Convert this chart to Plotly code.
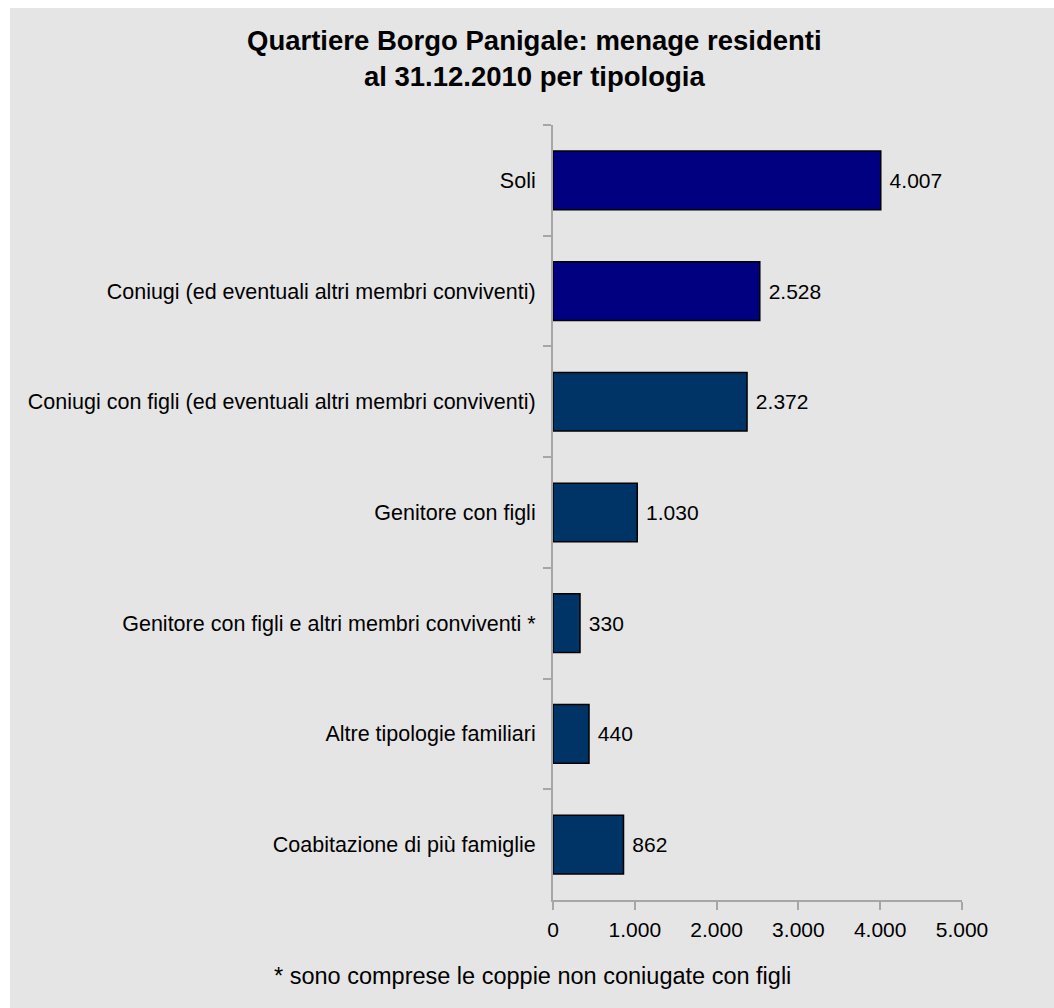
import plotly.graph_objects as go

# Household types and counts (Borgo Panigale, 31.12.2010)
categories = [
    "Soli",
    "Coniugi (ed eventuali altri membri conviventi)",
    "Coniugi con figli (ed eventuali altri membri conviventi)",
    "Genitore con figli",
    "Genitore con figli e altri membri conviventi *",
    "Altre tipologie familiari",
    "Coabitazione di più famiglie",
]
values = [4007, 2528, 2372, 1030, 330, 440, 862]
bar_colors = ["#000080", "#000080", "#003366", "#003366", "#003366", "#003366", "#003366"]
x_ticks = [0, 1000, 2000, 3000, 4000, 5000]
title_lines = ["Quartiere Borgo Panigale: menage residenti", "al 31.12.2010 per tipologia"]
footnote = "* sono comprese le coppie non coniugate con figli"

W, H = 1054, 1008
L, R, T, B = 553, 92, 125, 108
pw, ph = W - L - R, H - T - B
FONT = "Liberation Sans, Arial"


def px_x(p):
    return (p - L) / pw


def px_y(p):
    return (H - B - p) / ph


fig = go.Figure(
    go.Bar(
        x=values,
        y=categories,
        orientation="h",
        marker=dict(color=bar_colors, line=dict(color="#000000", width=1.5)),
        width=0.53,
        text=values,
        texttemplate=" %{x:,d}",
        textposition="outside",
        textfont=dict(family=FONT, size=21, color="#000000"),
        cliponaxis=False,
        hoverinfo="skip",
    )
)

annotations = [
    dict(
        text="<b>" + "<br>".join(title_lines) + "</b>",
        xref="paper",
        yref="paper",
        x=px_x(534),
        y=px_y(59),
        xanchor="center",
        yanchor="middle",
        showarrow=False,
        font=dict(family=FONT, size=27.5, color="#000000"),
    ),
    dict(
        text=footnote,
        xref="paper",
        yref="paper",
        x=px_x(532),
        y=px_y(976),
        xanchor="center",
        yanchor="middle",
        showarrow=False,
        font=dict(family=FONT, size=23.5, color="#000000"),
    ),
]

fig.update_layout(
    width=W,
    height=H,
    margin=dict(l=L, r=R, t=T, b=B),
    paper_bgcolor="#ffffff",
    plot_bgcolor="rgba(0,0,0,0)",
    separators=",.",
    showlegend=False,
    font=dict(family=FONT, size=21, color="#000000"),
    shapes=[
        dict(
            type="rect",
            xref="paper",
            yref="paper",
            x0=px_x(10),
            x1=px_x(W + 5),
            y0=px_y(H + 5),
            y1=px_y(8),
            fillcolor="#e5e5e5",
            line=dict(width=0),
            layer="below",
        )
    ],
    annotations=annotations,
)

fig.update_xaxes(
    range=[0, 5000],
    tickvals=x_ticks,
    tickformat=",d",
    showgrid=False,
    zeroline=False,
    showline=True,
    linecolor="#a6a6a6",
    linewidth=2,
    ticks="outside",
    ticklen=8,
    tickwidth=2,
    tickcolor="#a6a6a6",
    ticklabelstandoff=2,
    tickfont=dict(size=21),
)

fig.update_yaxes(
    autorange="reversed",
    showgrid=False,
    showline=True,
    linecolor="#a6a6a6",
    linewidth=2,
    ticks="outside",
    tickson="boundaries",
    ticklen=8,
    tickwidth=2,
    tickcolor="#a6a6a6",
    ticklabelstandoff=11,
    tickfont=dict(size=21.5),
)

fig.write_html("out.html")
